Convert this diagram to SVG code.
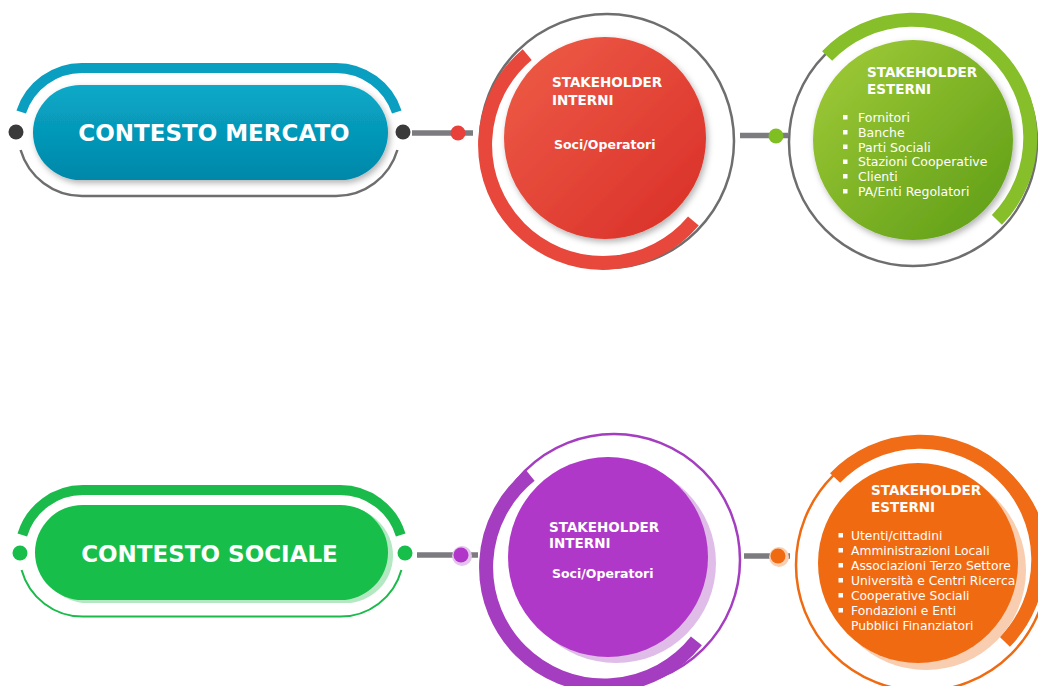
<svg xmlns="http://www.w3.org/2000/svg" width="1038" height="686" viewBox="0 0 1038 686">
<defs>
  <linearGradient id="gTeal" x1="0" y1="0" x2="0" y2="1">
    <stop offset="0" stop-color="#0aa9c8"/>
    <stop offset="1" stop-color="#0087a9"/>
  </linearGradient>
  <linearGradient id="gRed" x1="0" y1="0" x2="1" y2="1">
    <stop offset="0" stop-color="#ee5d48"/>
    <stop offset="1" stop-color="#d92e27"/>
  </linearGradient>
  <linearGradient id="gGreen" x1="0" y1="0" x2="1" y2="1">
    <stop offset="0" stop-color="#a2cc38"/>
    <stop offset="1" stop-color="#5c9c16"/>
  </linearGradient>
  <filter id="sh" x="-20%" y="-20%" width="140%" height="150%">
    <feDropShadow dx="2" dy="3" stdDeviation="3" flood-color="#000" flood-opacity="0.3"/>
  </filter>
  <style>
    text { font-family: "DejaVu Sans", "Liberation Sans", sans-serif; fill: #ffffff; }
    .big { font-size: 23px; font-weight: bold; }
    .ttl { font-size: 13.5px; font-weight: bold; }
    .sub { font-size: 12.5px; font-weight: 600; }
    .li { font-size: 12.5px; }
    .li2 { font-size: 12.3px; }
    .thin { fill: none; stroke: #6e6e6e; stroke-width: 2.5; }
    .conn { stroke: #7b7b80; stroke-width: 5.5; }
  </style>
</defs>

<g id="connectors">
  <line class="conn" x1="412" y1="133" x2="473" y2="133"/>
  <circle cx="458" cy="133" r="7.5" fill="#e8403a"/>
  <line class="conn" x1="740" y1="135.5" x2="788" y2="135.5"/>
  <circle cx="776" cy="136" r="7.5" fill="#7fbf22"/>
  <line class="conn" x1="417" y1="555" x2="478" y2="555"/>
  <circle cx="462" cy="556" r="10" fill="#e3c4ec"/>
  <circle cx="461" cy="555" r="7.5" fill="#b035c8"/>
  <line class="conn" x1="744" y1="556" x2="790" y2="556"/>
  <circle cx="779" cy="557" r="10" fill="#f8cfb2"/>
  <circle cx="778" cy="556" r="7.5" fill="#f06a12"/>
</g>

<g id="contesto-mercato">
  <path d="M21.2 112 A64 64 0 0 1 82 68 L336 68 A64 64 0 0 1 396.8 112" fill="none" stroke="#0a9ec0" stroke-width="10"/>
  <path d="M20.6 150 A64 64 0 0 0 82 196 L336 196 A64 64 0 0 0 397.4 150" class="thin" stroke-width="2"/>
  <circle cx="16" cy="132" r="7.5" fill="#3a3a3a"/>
  <circle cx="403" cy="132" r="7.5" fill="#3a3a3a"/>
  <rect x="33" y="85" width="355" height="95" rx="47.5" fill="url(#gTeal)" filter="url(#sh)"/>
  <text class="big" x="214" y="141" text-anchor="middle">CONTESTO MERCATO</text>
</g>

<g id="interni-mercato">
  <circle cx="607" cy="141" r="127" class="thin"/>
  <path d="M527.2 54.6 A118 118 0 1 0 693.4 220.9" fill="none" stroke="#e8473b" stroke-width="14"/>
  <circle cx="605" cy="138" r="101" fill="url(#gRed)" filter="url(#sh)"/>
  <text class="ttl" x="552" y="87">STAKEHOLDER</text>
  <text class="ttl" x="552" y="104.5">INTERNI</text>
  <text class="sub" x="554" y="149">Soci/Operatori</text>
</g>

<g id="esterni-mercato">
  <circle cx="913" cy="142" r="124" class="thin"/>
  <path d="M827.1 56 A118 118 0 1 1 996.9 219.9" fill="none" stroke="#86bf2a" stroke-width="14"/>
  <circle cx="913" cy="140" r="100" fill="url(#gGreen)" filter="url(#sh)"/>
  <text class="ttl" x="867" y="77">STAKEHOLDER</text>
  <text class="ttl" x="867" y="93.5">ESTERNI</text>
  <g fill="#ffffff">
    <rect x="843" y="115" width="4.5" height="4.5"/>
    <rect x="843" y="130" width="4.5" height="4.5"/>
    <rect x="843" y="144.5" width="4.5" height="4.5"/>
    <rect x="843" y="159.5" width="4.5" height="4.5"/>
    <rect x="843" y="174" width="4.5" height="4.5"/>
    <rect x="843" y="189" width="4.5" height="4.5"/>
  </g>
  <text class="li" x="858" y="122">Fornitori</text>
  <text class="li" x="858" y="136.8">Banche</text>
  <text class="li" x="858" y="151.6">Parti Sociali</text>
  <text class="li" x="858" y="166.4">Stazioni Cooperative</text>
  <text class="li" x="858" y="181.2">Clienti</text>
  <text class="li" x="858" y="196">PA/Enti Regolatori</text>
</g>

<g id="contesto-sociale">
  <path d="M22.3 535 A63.3 63.3 0 0 1 83 490 L340 490 A63.3 63.3 0 0 1 400.7 535" fill="none" stroke="#1abb4a" stroke-width="10"/>
  <path d="M21.6 570 A63.3 63.3 0 0 0 83 616.6 L340 616.6 A63.3 63.3 0 0 0 401.4 570" fill="none" stroke="#1abb4a" stroke-width="2"/>
  <circle cx="20" cy="553" r="7.5" fill="#17bf4a"/>
  <circle cx="405" cy="553" r="7.5" fill="#17bf4a"/>
  <rect x="40" y="508" width="353" height="95" rx="47.5" fill="#b3e8c3"/>
  <rect x="35" y="505" width="353" height="95" rx="47.5" fill="#17bf4a"/>
  <text class="big" x="209.5" y="562" text-anchor="middle">CONTESTO SOCIALE</text>
</g>

<g id="interni-sociale">
  <circle cx="614" cy="560" r="126" fill="none" stroke="#a43dc0" stroke-width="2.5"/>
  <path d="M530.2 475.4 A118 118 0 1 0 696.4 640.9" fill="none" stroke="#a43dbf" stroke-width="14"/>
  <circle cx="616" cy="563" r="100" fill="#dfbde8"/>
  <circle cx="608" cy="557" r="100" fill="#b038c8"/>
  <text class="ttl" x="549" y="531.5">STAKEHOLDER</text>
  <text class="ttl" x="549" y="548.3">INTERNI</text>
  <text class="sub" x="552" y="578.3">Soci/Operatori</text>
</g>

<g id="esterni-sociale">
  <circle cx="922" cy="565" r="126" fill="none" stroke="#f06a12" stroke-width="2.5"/>
  <path d="M835.1 478 A118 118 0 1 1 1004.9 641.9" fill="none" stroke="#f06c16" stroke-width="14"/>
  <circle cx="926" cy="570" r="100" fill="#f8cdb0"/>
  <circle cx="918" cy="563" r="100" fill="#f06a12"/>
  <text class="ttl" x="871" y="495">STAKEHOLDER</text>
  <text class="ttl" x="871" y="511.7">ESTERNI</text>
  <g fill="#ffffff">
    <rect x="838.5" y="533" width="4.5" height="4.5"/>
    <rect x="838.5" y="548" width="4.5" height="4.5"/>
    <rect x="838.5" y="563" width="4.5" height="4.5"/>
    <rect x="838.5" y="578" width="4.5" height="4.5"/>
    <rect x="838.5" y="593" width="4.5" height="4.5"/>
    <rect x="838.5" y="608" width="4.5" height="4.5"/>
  </g>
  <text class="li2" x="851" y="539.5">Utenti/cittadini</text>
  <text class="li2" x="851" y="554.5">Amministrazioni Locali</text>
  <text class="li2" x="851" y="569.5">Associazioni Terzo Settore</text>
  <text class="li2" x="851" y="584.5">Università e Centri Ricerca</text>
  <text class="li2" x="851" y="599.5">Cooperative Sociali</text>
  <text class="li2" x="851" y="614.5">Fondazioni e Enti</text>
  <text class="li2" x="851" y="629.5">Pubblici Finanziatori</text>
</g>
</svg>
